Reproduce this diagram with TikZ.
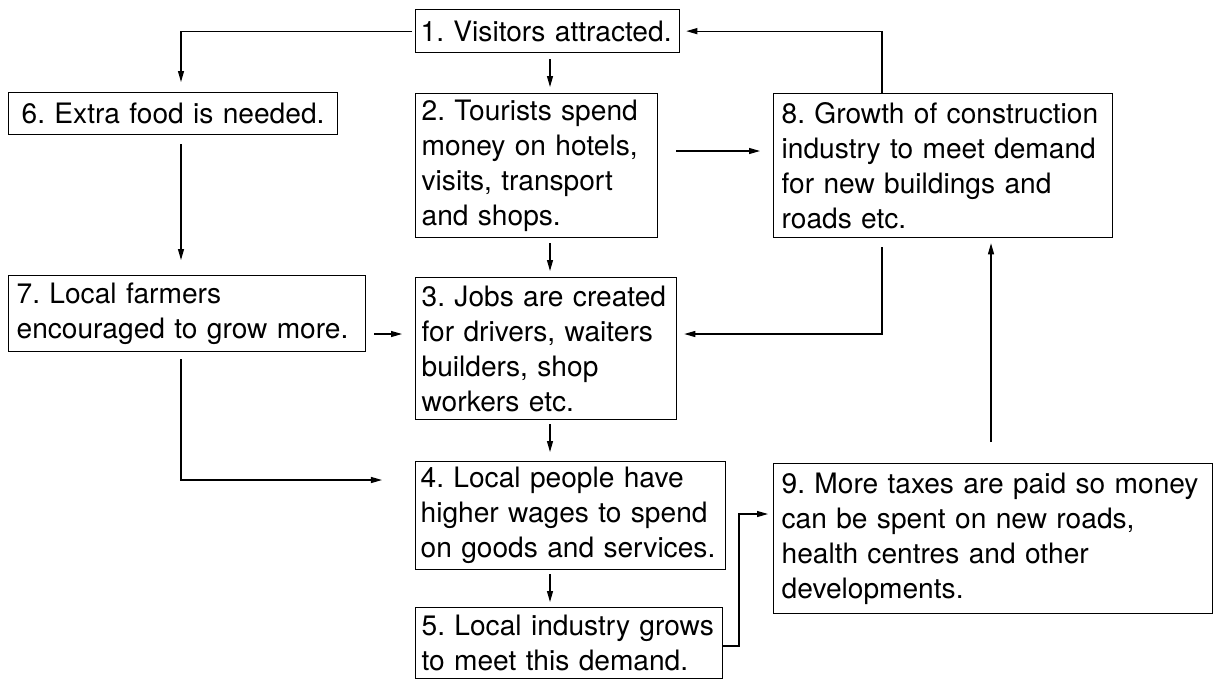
\documentclass[tikz,border=0pt]{standalone}
\usepackage{fontspec}
\setmainfont{TeX Gyre Heros}
\usetikzlibrary{arrows.meta}
\frenchspacing
\hyphenpenalty=10000

\begin{document}
\begin{tikzpicture}[x=0.025cm, y=-0.025cm,
  box/.style n args={3}{draw, line width=0.9pt, anchor=north west, align=left,
    inner ysep=0pt, inner xsep=#3*0.025cm, text width=(#1-2*#3)*0.025cm,
    minimum height=#2*0.025cm, font=\fontsize{20}{24.9}\selectfont},
  arr/.style={-{Triangle[length=0.275cm,width=0.15cm]}, line width=0.8pt}]
\useasboundingbox (0,0) rectangle (1214,680);
% Boxes
\node[box={264}{43}{5}] (b1) at (415,9) {1. Visitors attracted.};
\node[box={242}{144}{6}] (b2) at (415,93) {2. Tourists spend\\money on hotels,\\visits, transport\\and shops.};
\node[box={261}{142}{6}] (b3) at (415,277) {3. Jobs are created\\for drivers, waiters\\builders, shop\\workers etc.};
\node[box={310}{108}{5}] (b4) at (415,461) {4. Local people have\\higher wages to spend\\on goods and services.};
\node[box={307}{71}{6}] (b5) at (415,607) {5. Local industry grows\\to meet this demand.};
\node[box={329}{42}{13}] (b6) at (8,92) {6. Extra food is needed.};
\node[box={357}{76}{8}] (b7) at (8,275) {7. Local farmers\\encouraged to grow more.};
\node[box={339}{144}{8}] (b8) at (773,93) {8. Growth of construction\\industry to meet demand\\for new buildings and\\roads etc.};
\node[box={439}{150}{8}] (b9) at (773,463) {9. More taxes are paid so money\\can be spent on new roads,\\health centres and other\\developments.};
% Lines of the connectors
\coordinate (mid) at (550,0);
\coordinate (colL) at (181,0);
\coordinate (c8) at (882,0);
\coordinate (c9) at (991,0);
\coordinate (k) at (739,0);
\coordinate (r2) at (0,151);
\coordinate (r3) at (0,334);
\coordinate (r4) at (0,480);
\coordinate (r5) at (0,646);
\coordinate (r9) at (0,514);
% Arrows
\draw[arr, shorten <=0.075cm, shorten >=0.25cm] (b1.west) -| (b6.north -| colL);
\draw[arr, shorten <=0.15cm, shorten >=0.15cm] (b1.south -| mid) -- (b2.north -| mid);
\draw[arr, shorten <=0.125cm, shorten >=0.15cm] (b2.south -| mid) -- (b3.north -| mid);
\draw[arr, shorten <=0.1cm, shorten >=0.225cm] (b3.south -| mid) -- (b4.north -| mid);
\draw[arr, shorten <=0.1cm, shorten >=0.125cm] (b4.south -| mid) -- (b5.north -| mid);
\draw[arr, shorten <=0.225cm, shorten >=0.375cm] (b6.south -| colL) -- (b7.north -| colL);
\draw[arr, shorten <=0.2cm, shorten >=0.325cm] (b7.east |- r3) -- (b3.west |- r3);
\draw[arr, shorten <=0.175cm, shorten >=0.825cm] (b7.south -| colL) |- (b4.west |- r4);
\draw[arr, shorten <=0.45cm, shorten >=0.325cm] (b2.east |- r2) -- (b8.west |- r2);
\draw[arr, shorten >=0.15cm] (b8.north -| c8) |- (b1.east);
\draw[arr, shorten <=0.225cm, shorten >=0.175cm] (b8.south -| c8) |- (b3.east |- r3);
\draw[arr, shorten >=0.125cm] (b5.east |- r5) -| (k |- r9) -- (b9.west |- r9);
\draw[arr, shorten <=0.525cm, shorten >=0.125cm] (b9.north -| c9) -- (b8.south -| c9);
\end{tikzpicture}
\end{document}
